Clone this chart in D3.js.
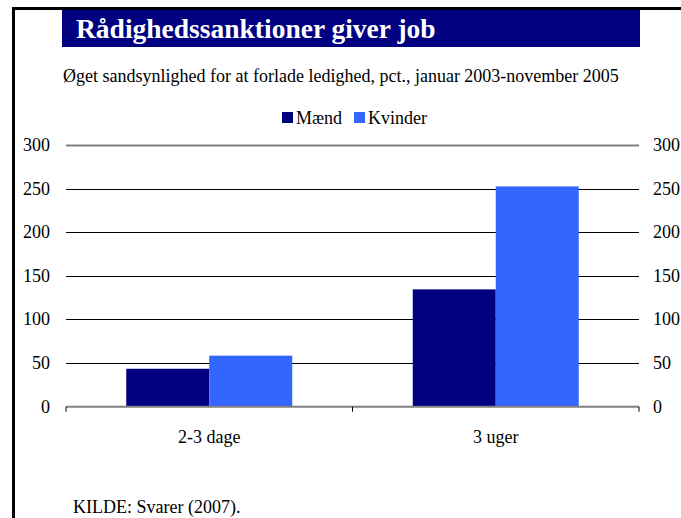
<!DOCTYPE html>
<html>
<head>
<meta charset="utf-8">
<script src="https://cdn.jsdelivr.net/npm/d3@7"></script>
<style>
  body { margin: 0; background: #fff; }
  svg text { font-family: "Liberation Serif", "DejaVu Serif", serif; fill: #000; }
</style>
</head>
<body>
<div id="chart"></div>
<script>
var categories = ["2-3 dage", "3 uger"];
var series = ["Mænd", "Kvinder"];
var maend = [43.5, 134.5];
var kvinder = [58.5, 252.5];
var yTicks = [0, 50, 100, 150, 200, 250, 300];
var colors = ["#000080", "#3366ff"];

var width = 681, height = 518;
var margin = { top: 145, right: 42, bottom: 111, left: 66 };
var fs = "18px";

var svg = d3.select("#chart")
    .append("svg")
    .attr("width", width)
    .attr("height", height);

// ramme
svg.append("rect").attr("x", 12).attr("y", 7).attr("width", width).attr("height", 3).attr("fill", "#000");
svg.append("rect").attr("x", 12).attr("y", 7).attr("width", 3).attr("height", height).attr("fill", "#000");

// titel
svg.append("rect").attr("x", 62).attr("y", 10).attr("width", 578).attr("height", 37).attr("fill", "#000080");
svg.append("text")
    .attr("x", 76).attr("y", 38)
    .style("font-size", "27.5px").style("font-weight", "bold").style("fill", "#fff")
    .text("Rådighedssanktioner giver job");

svg.append("text")
    .attr("x", 63).attr("y", 82)
    .style("font-size", fs)
    .text("Øget sandsynlighed for at forlade ledighed, pct., januar 2003-november 2005");

var y = d3.scaleLinear().domain([0, 300]).range([height - margin.bottom - 0.3, margin.top]);
var x0 = d3.scaleBand().domain(categories).range([margin.left, width - margin.right]);
var x1 = d3.scaleBand().domain(series).range([0, x0.bandwidth()]).paddingOuter(0.726);

// gitterlinjer + akser
var grid = svg.append("g");
grid.selectAll("line")
    .data(yTicks.filter(function(d) { return d > 0; }))
    .enter().append("line")
    .attr("x1", margin.left).attr("x2", width - margin.right)
    .attr("y1", function(d) { return Math.round(y(d)) + 0.5; })
    .attr("y2", function(d) { return Math.round(y(d)) + 0.5; })
    .attr("stroke", function(d) { return d === 300 ? "#808080" : "#000"; })
    .attr("stroke-width", function(d) { return d === 300 ? 2 : 1; });

grid.selectAll("text.left")
    .data(yTicks).enter().append("text")
    .attr("class", "left")
    .attr("x", 50).attr("y", function(d) { return y(d) + 6; })
    .attr("text-anchor", "end")
    .style("font-size", fs)
    .text(function(d) { return d; });

grid.selectAll("text.right")
    .data(yTicks).enter().append("text")
    .attr("class", "right")
    .attr("x", 653).attr("y", function(d) { return y(d) + 6; })
    .style("font-size", fs)
    .text(function(d) { return d; });

// søjler
var rows = categories.map(function(c, i) {
  return { cat: c, vals: [maend[i], kvinder[i]] };
});
var groups = svg.selectAll(".grp")
    .data(rows).enter().append("g")
    .attr("class", "grp")
    .attr("transform", function(d) { return "translate(" + x0(d.cat) + ",0)"; });

groups.selectAll("rect")
    .data(function(d) { return d.vals.map(function(v, j) { return { s: series[j], v: v, j: j }; }); })
    .enter().append("rect")
    .attr("x", function(d) { return x1(d.s); })
    .attr("width", x1.bandwidth())
    .attr("y", function(d) { return y(d.v); })
    .attr("height", function(d) { return y(0) - y(d.v); })
    .attr("fill", function(d) { return colors[d.j]; });

// nullinje + tick marks
var y0 = y(0);
svg.append("line")
    .attr("x1", margin.left).attr("x2", width - margin.right)
    .attr("y1", y0).attr("y2", y0)
    .attr("stroke", "#808080").attr("stroke-width", 2);
var tickX = categories.map(function(c) { return x0(c); }).concat([x0(categories[1]) + x0.bandwidth()]);
svg.selectAll(".tk").data(tickX).enter().append("line")
    .attr("class", "tk")
    .attr("x1", function(d) { return d; }).attr("x2", function(d) { return d; })
    .attr("y1", y0).attr("y2", y0 + 5)
    .attr("stroke", "#000");

svg.selectAll(".cat").data(categories).enter().append("text")
    .attr("class", "cat")
    .attr("x", function(d) { return x0(d) + x0.bandwidth() / 2; })
    .attr("y", 443)
    .attr("text-anchor", "middle")
    .style("font-size", fs)
    .text(function(d) { return d; });

// legend
var legX = [282, 354];
var leg = svg.selectAll(".leg").data(series).enter().append("g")
    .attr("class", "leg")
    .attr("transform", function(d, i) { return "translate(" + legX[i] + ",112)"; });
leg.append("rect").attr("width", 11).attr("height", 11)
    .attr("fill", function(d, i) { return colors[i]; });
leg.append("text").attr("x", 14).attr("y", 12)
    .style("font-size", fs)
    .text(function(d) { return d; });

svg.append("text")
    .attr("x", 73).attr("y", 513)
    .style("font-size", fs)
    .text("KILDE: Svarer (2007).");
</script>
</body>
</html>
